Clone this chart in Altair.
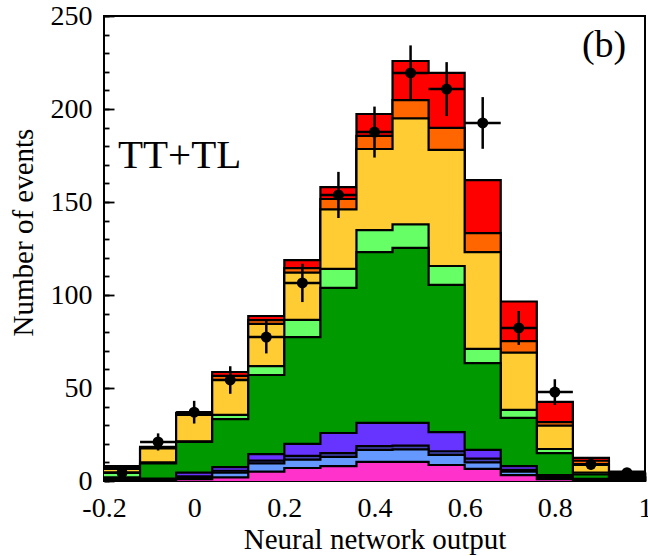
import altair as alt
import pandas as pd

# ---- data ----
bin_centers = [-0.16, -0.08, 0.0, 0.08, 0.16, 0.24, 0.32, 0.40, 0.48, 0.56, 0.64, 0.72, 0.80, 0.88, 0.96]
bin_edges = [-0.2, -0.12, -0.04, 0.04, 0.12, 0.2, 0.28, 0.36, 0.44, 0.52, 0.6, 0.68, 0.76, 0.84, 0.92, 1.0]
half_width = 0.04

# cumulative stack heights (bottom -> top)
cum_magenta = [0.3, 0.4, 1.0, 2.0, 5.0, 7.0, 8.0, 10.3, 10.3, 8.6, 6.5, 3.2, 1.0, 0.5, 0.5]
cum_lightblue = [0.6, 0.8, 2.0, 4.5, 9.5, 11.5, 13.0, 16.7, 17.0, 14.0, 10.0, 5.0, 1.8, 0.8, 1.0]
cum_navy = [0.8, 1.0, 2.5, 5.5, 11.0, 13.5, 15.0, 18.7, 19.0, 16.0, 12.0, 6.0, 2.2, 1.0, 1.4]
cum_purple = [1.0, 1.3, 4.5, 7.5, 14.5, 20.0, 25.8, 31.2, 31.2, 26.3, 16.7, 8.0, 3.2, 1.2, 1.8]
cum_darkgreen = [2.0, 9.5, 21.0, 33.3, 57.0, 77.4, 103.8, 123.0, 125.3, 105.4, 63.4, 33.9, 15.0, 3.5, 2.5]
cum_lightgreen = [4.5, 10.0, 21.3, 35.5, 61.8, 86.6, 114.0, 134.9, 138.0, 115.6, 71.0, 38.2, 17.2, 4.5, 3.0]
cum_yellow = [6.5, 17.5, 35.5, 54.3, 84.5, 112.0, 146.0, 178.5, 195.0, 178.0, 123.0, 69.0, 29.8, 8.6, 3.8]
cum_orange = [7.3, 18.0, 36.0, 56.5, 86.5, 114.5, 151.6, 185.5, 204.8, 189.8, 133.3, 75.2, 31.7, 10.9, 4.4]
cum_red = [8.0, 18.3, 36.6, 58.6, 88.7, 118.8, 158.0, 197.3, 225.8, 219.4, 161.8, 96.5, 42.5, 12.4, 5.0]

data_counts = [4.5, 21.0, 37.0, 54.3, 77.4, 106.5, 153.8, 187.6, 219.4, 210.7, 192.5, 82.3, 47.8, 9.0, 4.5]
data_errors = [2.1, 4.6, 6.1, 7.4, 8.8, 10.3, 12.4, 13.7, 14.8, 14.5, 13.9, 9.1, 6.9, 3.0, 2.1]

x_major = [-0.2, 0.0, 0.2, 0.4, 0.6, 0.8, 1.0]
x_minor = [-0.2, -0.15, -0.1, -0.05, 0.0, 0.05, 0.1, 0.15, 0.2, 0.25, 0.3, 0.35, 0.4, 0.45,
           0.5, 0.55, 0.6, 0.65, 0.7, 0.75, 0.8, 0.85, 0.9, 0.95, 1.0]
y_major = [0, 50, 100, 150, 200, 250]
y_minor = [0, 10, 20, 30, 40, 50, 60, 70, 80, 90, 100, 110, 120, 130, 140, 150, 160, 170,
           180, 190, 200, 210, 220, 230, 240, 250]

# top layer first (drawn first, smaller ones drawn over it)
stack = [
    ("red", "#ff0000", cum_red),
    ("orange", "#ff6600", cum_orange),
    ("yellow", "#ffcc33", cum_yellow),
    ("lightgreen", "#66ff66", cum_lightgreen),
    ("darkgreen", "#009900", cum_darkgreen),
    ("purple", "#6633ff", cum_purple),
    ("navy", "#4444bb", cum_navy),
    ("lightblue", "#6699ff", cum_lightblue),
    ("magenta", "#ff33cc", cum_magenta),
]

FONT = "Liberation Serif"
xscale = alt.Scale(domain=[-0.2, 1.0], nice=False, zero=False)
yscale = alt.Scale(domain=[0, 250], nice=False)

x_label_expr = ("datum.value < 0 ? '-' + format(-datum.value, '.1f') : "
                "datum.value == 0 ? '0' : datum.value == 1 ? '1' : format(datum.value, '.1f')")

layers = []
for i, (name, col, cum) in enumerate(stack):
    df = pd.DataFrame({"x": bin_edges, "y": list(cum) + [cum[-1]]})
    if i == 0:
        xax = alt.Axis(values=x_major, labelFlush=False, ticks=False, tickSize=0, domain=False,
                       grid=False, labelFont=FONT, labelFontSize=28, labelColor="black",
                       labelPadding=13, labelExpr=x_label_expr,
                       title="Neural network output", titleFont=FONT, titleFontSize=29,
                       titleFontWeight="normal", titleColor="black", titleY=67,
                       titleBaseline="alphabetic", orient="bottom")
        yax = alt.Axis(values=y_major, ticks=False, tickSize=0, domain=False, grid=False,
                       labelFont=FONT, labelFontSize=28, labelColor="black", labelPadding=12,
                       title="Number of events", titleFont=FONT, titleFontSize=29,
                       titleFontWeight="normal", titleColor="black", titleAngle=270,
                       titleX=-72, titleY=216, titleBaseline="alphabetic", titleAlign="center",
                       orient="left")
    else:
        xax = None
        yax = None
    area = alt.Chart(df).mark_area(interpolate="step-after", color=col, opacity=1).encode(
        x=alt.X("x:Q", scale=xscale, axis=xax),
        y=alt.Y("y:Q", scale=yscale, axis=yax),
    )
    line = alt.Chart(df).mark_line(interpolate="step-after", color="black", strokeWidth=2.2).encode(
        x=alt.X("x:Q", scale=xscale, axis=None),
        y=alt.Y("y:Q", scale=yscale, axis=None),
    )
    layers += [area, line]

pts = pd.DataFrame({
    "x": bin_centers,
    "lo": [c - half_width for c in bin_centers],
    "hi": [c + half_width for c in bin_centers],
    "n": data_counts,
    "nlo": [n - e for n, e in zip(data_counts, data_errors)],
    "nhi": [n + e for n, e in zip(data_counts, data_errors)],
})

tick_ax = dict(labels=False, domain=False, grid=False, title=None, tickColor="black", tickWidth=1.8)

vbar = alt.Chart(pts).mark_rule(color="black", strokeWidth=2.5).encode(
    x=alt.X("x:Q", scale=xscale,
            axis=alt.Axis(values=x_major, tickSize=9, offset=-9, orient="bottom", **tick_ax)),
    y=alt.Y("nlo:Q", scale=yscale,
            axis=alt.Axis(values=y_major, tickSize=10, offset=-10, orient="left", **tick_ax)),
    y2="nhi:Q",
)
hbar = alt.Chart(pts).mark_rule(color="black", strokeWidth=2.5).encode(
    x=alt.X("lo:Q", scale=xscale,
            axis=alt.Axis(values=x_minor, tickSize=5, offset=-5, orient="bottom", **tick_ax)),
    x2="hi:Q",
    y=alt.Y("n:Q", scale=yscale,
            axis=alt.Axis(values=y_minor, tickSize=5, offset=-5, orient="left", **tick_ax)),
)
dots = alt.Chart(pts).mark_point(filled=True, color="black", size=120, opacity=1, shape="circle").encode(
    x=alt.X("x:Q", scale=xscale, axis=None),
    y=alt.Y("n:Q", scale=yscale, axis=None),
)

labels1 = pd.DataFrame({"x": [-0.169], "y": [168.3], "t": ["TT+TL"]})
labels2 = pd.DataFrame({"x": [0.86], "y": [228.0], "t": ["(b)"]})
txt1 = alt.Chart(labels1).mark_text(font=FONT, fontSize=41, align="left", baseline="alphabetic", color="black").encode(
    x=alt.X("x:Q", scale=xscale, axis=None), y=alt.Y("y:Q", scale=yscale, axis=None), text="t:N")
txt2 = alt.Chart(labels2).mark_text(font=FONT, fontSize=38, align="left", baseline="alphabetic", color="black").encode(
    x=alt.X("x:Q", scale=xscale, axis=None), y=alt.Y("y:Q", scale=yscale, axis=None), text="t:N")

chart = alt.layer(*layers, vbar, hbar, dots, txt1, txt2).resolve_axis(
    x="independent", y="independent"
).properties(
    width=541, height=465,
    padding={"left": 104, "top": 16, "right": 3, "bottom": 75},
    autosize=alt.AutoSizeParams(type="none"),
    background="white",
).configure_view(stroke="black", strokeWidth=2)

chart.save("out.html", embed_options={"renderer": "svg", "actions": False})
